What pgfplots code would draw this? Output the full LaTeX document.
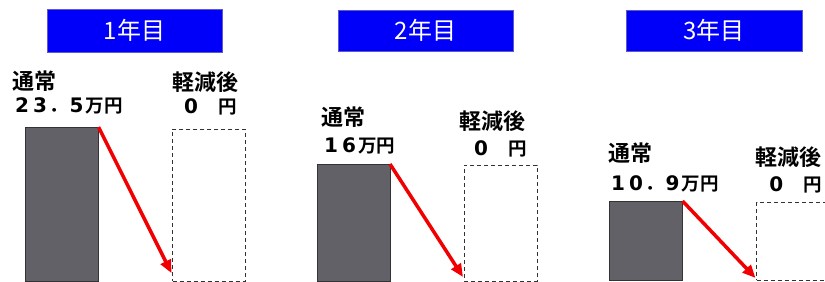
\documentclass[border=0pt]{standalone}
\usepackage{fontspec}
\setmainfont{Noto Sans CJK JP}[BoldFont={Noto Sans CJK JP Bold}]
\newfontfamily\digfont{DejaVu Sans}[BoldFont={DejaVu Sans Bold}]
\usepackage{pgfplots}
\pgfplotsset{compat=1.18}
\usetikzlibrary{arrows.meta}
\definecolor{bargray}{RGB}{98,97,104}
\definecolor{titleblue}{RGB}{0,0,250}
\definecolor{titleedge}{RGB}{90,90,200}
\definecolor{dashgray}{RGB}{50,50,50}
\definecolor{arrowred}{RGB}{240,0,0}
\newcommand\dg[1]{\makebox[18bp]{\digfont\bfseries\fontsize{20bp}{22bp}\selectfont #1}}
\pgfplotsset{
  panel/.style={axis lines=none, clip=false, x=147bp, xmin=-0.5, xmax=1.5, ymin=0,
    anchor=south west, ticks=none},
  bar/.style={ybar, bar width=73bp, fill=bargray, draw=black!80, line width=0.8bp},
  ghost/.style={ybar, bar width=73bp, fill=none, draw=dashgray, line width=0.9bp, dash pattern=on 4bp off 3bp},
  arr/.style={arrowred, line width=3.5bp, -{Triangle[length=13bp,width=11bp]}},
}
\tikzset{t1/.style={inner sep=0pt, font=\fontsize{22bp}{24bp}\selectfont\bfseries},
         t2/.style={inner sep=0pt, font=\fontsize{18.5bp}{20bp}\selectfont\bfseries},
         tt/.style={inner sep=0pt, text=white, font=\fontsize{24bp}{26bp}\selectfont}}
\begin{document}
\begin{tikzpicture}
\useasboundingbox (0,0) rectangle (825bp,282bp);
% titles
\filldraw[fill=titleblue, draw=titleedge, line width=0.6bp] (47bp,230bp) rectangle (222bp,273bp);
\node[tt] at (134.5bp,251.5bp) {1年目};
\filldraw[fill=titleblue, draw=titleedge, line width=0.6bp] (338bp,231bp) rectangle (513bp,272bp);
\node[tt] at (425.5bp,251.5bp) {2年目};
\filldraw[fill=titleblue, draw=titleedge, line width=0.6bp] (626bp,231bp) rectangle (802bp,272bp);
\node[tt] at (714bp,251.5bp) {3年目};
% panel 1
\begin{axis}[panel, y=6.55bp, ymax=42, at={(-11.5bp,1bp)}]
\addplot[bar] coordinates {(0,23.5)};
\addplot[ghost] coordinates {(1,23.2)};
\addplot[arr] coordinates {(0.2483,23.5) (0.745,1.2)};
\end{axis}
% panel 2
\begin{axis}[panel, y=7.31bp, ymax=38, at={(280bp,1bp)}]
\addplot[bar] coordinates {(0,16)};
\addplot[ghost] coordinates {(1,15.87)};
\addplot[arr] coordinates {(0.2483,16) (0.745,0.55)};
\end{axis}
% panel 3
\begin{axis}[panel, y=7.25bp, ymax=38, at={(572.5bp,2bp)}]
\addplot[bar] coordinates {(0,10.9)};
\addplot[ghost] coordinates {(1,10.76)};
\addplot[arr] coordinates {(0.2483,10.9) (0.745,0.28)};
\end{axis}
% labels panel 1
\node[t1, anchor=west] at (12bp,201bp) {通常};
\node[t2, anchor=west] at (13bp,176bp) {\dg{2}\dg{3}．\dg{5}万円};
\node[t1, anchor=west] at (172bp,200bp) {軽減後};
\node[t2, anchor=west] at (182bp,175bp) {\dg{0}\hspace{18bp}円};
% labels panel 2
\node[t1, anchor=west] at (321bp,165bp) {通常};
\node[t2, anchor=west] at (322bp,136.5bp) {\dg{1}\dg{6}万円};
\node[t1, anchor=west] at (459bp,161bp) {軽減後};
\node[t2, anchor=west] at (472bp,133.5bp) {\dg{0}\hspace{18bp}円};
% labels panel 3
\node[t1, anchor=west] at (608bp,129bp) {通常};
\node[t2, anchor=west] at (609bp,98.5bp) {\dg{1}\dg{0}．\dg{9}万円};
\node[t1, anchor=west] at (755bp,125bp) {軽減後};
\node[t2, anchor=west] at (767bp,97bp) {\dg{0}\hspace{18bp}円};
\end{tikzpicture}
\end{document}
